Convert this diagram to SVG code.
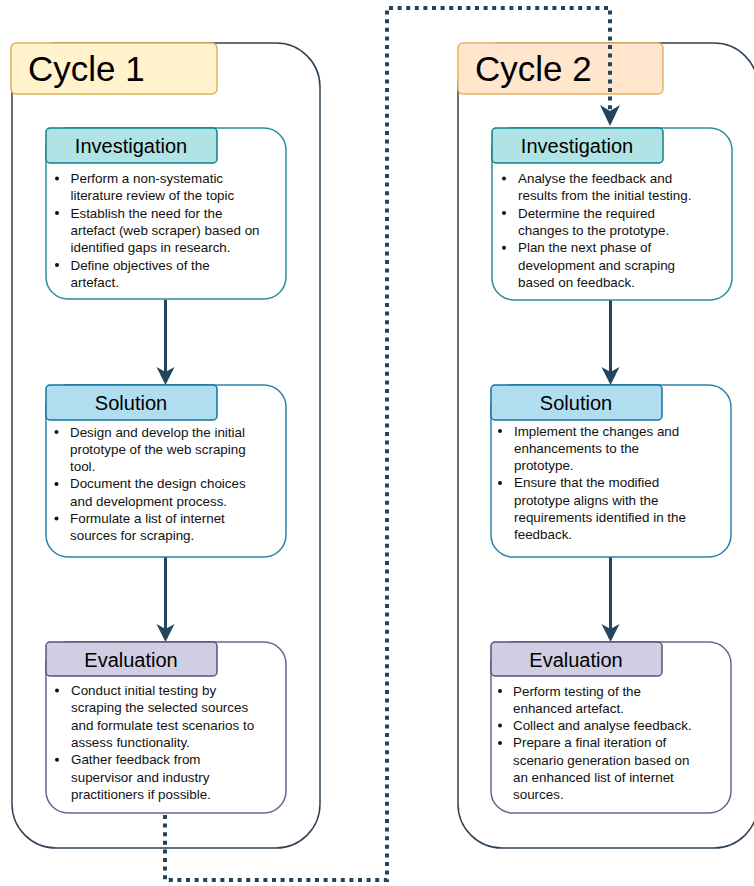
<svg xmlns="http://www.w3.org/2000/svg" width="754" height="886" viewBox="0 0 754 886">
<style>
.cont{fill:#fff;stroke:#314354;stroke-width:1.5}
.cycle{font-family:"Liberation Sans",Arial,sans-serif;font-size:35px;fill:#000}
.head{font-family:"Liberation Sans",Arial,sans-serif;font-size:20px;fill:#000;text-anchor:middle}
.body{font-family:"Liberation Sans",Arial,sans-serif;font-size:13.4px;fill:#111}
.inv{fill:#fff;stroke:#2e8f96;stroke-width:1.5}
.invh{fill:#b0e3e6;stroke:#0e8088;stroke-width:1.5}
.sol{fill:#fff;stroke:#2f82ab;stroke-width:1.5}
.solh{fill:#b1ddf0;stroke:#10739e;stroke-width:1.5}
.eva{fill:#fff;stroke:#6a6590;stroke-width:1.5}
.evah{fill:#d0cee2;stroke:#56517e;stroke-width:1.5}
.arrow{fill:none;stroke:#23445d;stroke-width:3}
.dot{fill:none;stroke:#23445d;stroke-width:4;stroke-dasharray:4 4.6}
.b{fill:#111}
</style>
<defs>
<marker id="ah" markerUnits="userSpaceOnUse" markerWidth="24" markerHeight="24" viewBox="-20 -12 24 24" refX="-12" refY="0" orient="auto">
<path d="M0,0 L-18,-9 L-13,0 L-18,9 Z" fill="#23445d"/>
</marker>
</defs>

<g id="cycle1">
<rect class="cont" x="12" y="43" width="308" height="805" rx="44"/>
<rect x="11" y="43" width="206" height="51" rx="5" fill="#fff2cc" stroke="#d6b656" stroke-width="1.5"/>
<text class="cycle" x="28" y="81">Cycle 1</text>
</g>

<g id="cycle2">
<rect class="cont" x="458" y="43" width="300" height="805" rx="44"/>
<rect x="458" y="43" width="205" height="51" rx="5" fill="#ffe6cc" stroke="#e8b45e" stroke-width="1.5"/>
<text class="cycle" x="475" y="81">Cycle 2</text>
</g>

<g id="connectors">
<path class="arrow" d="M165.5,300 V373" marker-end="url(#ah)"/>
<path class="arrow" d="M165.5,557 V630" marker-end="url(#ah)"/>
<path class="arrow" d="M610.5,300 V373" marker-end="url(#ah)"/>
<path class="arrow" d="M610.5,557 V630" marker-end="url(#ah)"/>
<path class="dot" d="M165,815 V880 H387 V8 H610 V110"/>
<path d="M610,126 L600,105 L610,111 L620,105 Z" fill="#23445d"/>
</g>

<g id="c1-investigation">
<rect class="inv" x="46" y="128" width="240" height="171" rx="22"/>
<rect class="invh" x="46" y="128" width="171" height="35" rx="4"/>
<text class="head" x="131" y="153">Investigation</text>
<g class="body">
<text x="70.5" y="183">Perform a non-systematic</text>
<text x="70.5" y="200.3">literature review of the topic</text>
<text x="70.5" y="217.6">Establish the need for the</text>
<text x="70.5" y="234.9">artefact (web scraper) based on</text>
<text x="70.5" y="252.2">identified gaps in research.</text>
<text x="70.5" y="269.5">Define objectives of the</text>
<text x="70.5" y="286.8">artefact.</text>
</g>
<circle class="b" cx="57" cy="178.5" r="2"/>
<circle class="b" cx="57" cy="213.1" r="2"/>
<circle class="b" cx="57" cy="265" r="2"/>
</g>

<g id="c1-solution">
<rect class="sol" x="46" y="385" width="240" height="172" rx="22"/>
<rect class="solh" x="46" y="385" width="171" height="35" rx="4"/>
<text class="head" x="131" y="410">Solution</text>
<g class="body">
<text x="70" y="436.5">Design and develop the initial</text>
<text x="70" y="453.8">prototype of the web scraping</text>
<text x="70" y="471.1">tool.</text>
<text x="70" y="488.4">Document the design choices</text>
<text x="70" y="505.7">and development process.</text>
<text x="70" y="523">Formulate a list of internet</text>
<text x="70" y="540.3">sources for scraping.</text>
</g>
<circle class="b" cx="56.5" cy="432" r="2"/>
<circle class="b" cx="56.5" cy="483.9" r="2"/>
<circle class="b" cx="56.5" cy="518.5" r="2"/>
</g>

<g id="c1-evaluation">
<rect class="eva" x="46" y="642" width="240" height="171" rx="22"/>
<rect class="evah" x="46" y="642" width="171" height="34" rx="4"/>
<text class="head" x="131" y="666.5">Evaluation</text>
<g class="body">
<text x="71" y="695">Conduct initial testing by</text>
<text x="71" y="712.3">scraping the selected sources</text>
<text x="71" y="729.6">and formulate test scenarios to</text>
<text x="71" y="746.9">assess functionality.</text>
<text x="71" y="764.2">Gather feedback from</text>
<text x="71" y="781.5">supervisor and industry</text>
<text x="71" y="798.8">practitioners if possible.</text>
</g>
<circle class="b" cx="57" cy="690.5" r="2"/>
<circle class="b" cx="57" cy="759.7" r="2"/>
</g>

<g id="c2-investigation">
<rect class="inv" x="492" y="128" width="240" height="172" rx="22"/>
<rect class="invh" x="492" y="128" width="171" height="35" rx="4"/>
<text class="head" x="577" y="153">Investigation</text>
<g class="body">
<text x="518" y="183">Analyse the feedback and</text>
<text x="518" y="200.3">results from the initial testing.</text>
<text x="518" y="217.6">Determine the required</text>
<text x="518" y="234.9">changes to the prototype.</text>
<text x="518" y="252.2">Plan the next phase of</text>
<text x="518" y="269.5">development and scraping</text>
<text x="518" y="286.8">based on feedback.</text>
</g>
<circle class="b" cx="504" cy="178.5" r="2"/>
<circle class="b" cx="504" cy="213.1" r="2"/>
<circle class="b" cx="504" cy="247.7" r="2"/>
</g>

<g id="c2-solution">
<rect class="sol" x="491" y="385" width="240" height="172" rx="22"/>
<rect class="solh" x="491" y="385" width="171" height="35" rx="4"/>
<text class="head" x="576" y="410">Solution</text>
<g class="body">
<text x="514" y="435.5">Implement the changes and</text>
<text x="514" y="452.8">enhancements to the</text>
<text x="514" y="470.1">prototype.</text>
<text x="514" y="487.4">Ensure that the modified</text>
<text x="514" y="504.7">prototype aligns with the</text>
<text x="514" y="522">requirements identified in the</text>
<text x="514" y="539.3">feedback.</text>
</g>
<circle class="b" cx="500" cy="431" r="2"/>
<circle class="b" cx="500" cy="482.9" r="2"/>
</g>

<g id="c2-evaluation">
<rect class="eva" x="491" y="642" width="240" height="171" rx="22"/>
<rect class="evah" x="491" y="642" width="171" height="34" rx="4"/>
<text class="head" x="576" y="666.5">Evaluation</text>
<g class="body">
<text x="513" y="695.5">Perform testing of the</text>
<text x="513" y="712.8">enhanced artefact.</text>
<text x="513" y="730.1">Collect and analyse feedback.</text>
<text x="513" y="747.4">Prepare a final iteration of</text>
<text x="513" y="764.7">scenario generation based on</text>
<text x="513" y="782">an enhanced list of internet</text>
<text x="513" y="799.3">sources.</text>
</g>
<circle class="b" cx="500" cy="691" r="2"/>
<circle class="b" cx="500" cy="725.6" r="2"/>
<circle class="b" cx="500" cy="742.9" r="2"/>
</g>
</svg>
